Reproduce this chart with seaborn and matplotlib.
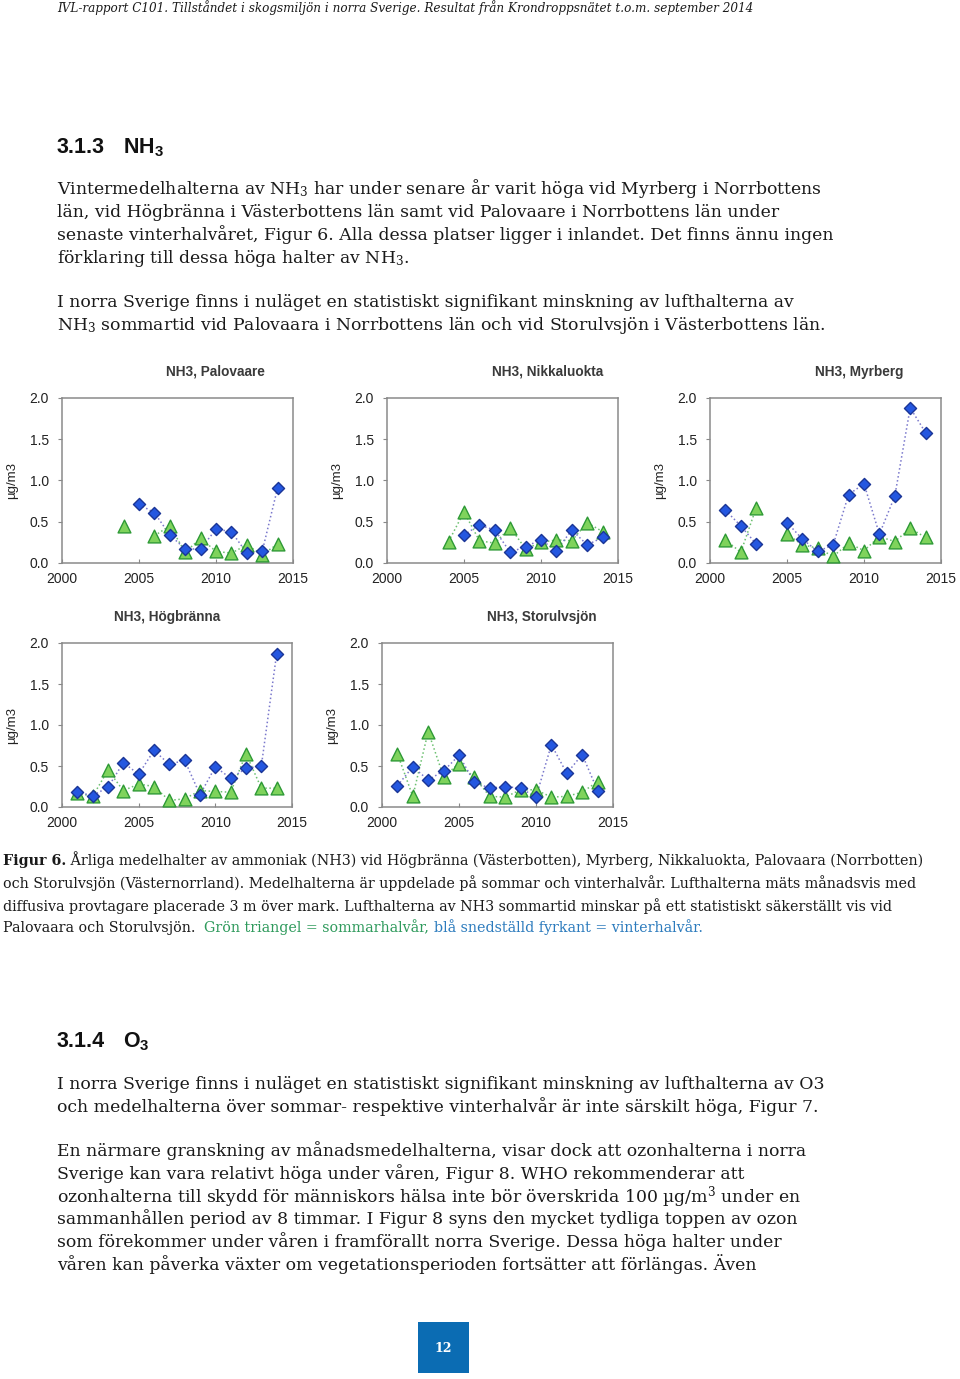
import numpy as np
import pandas as pd
import matplotlib
matplotlib.use("Agg")
import matplotlib.pyplot as plt
from matplotlib.patches import Rectangle
import seaborn as sns

nan = np.nan
years = list(range(2001, 2015))

palovaare_summer = [nan, nan, nan, 0.45, nan, 0.33, 0.45, 0.13, 0.30, 0.14, 0.12, 0.22, 0.10, 0.23]
palovaare_winter = [nan, nan, nan, nan, 0.71, 0.61, 0.34, 0.17, 0.17, 0.41, 0.38, 0.12, 0.14, 0.91]
nikkaluokta_summer = [nan, nan, nan, 0.26, 0.62, 0.27, 0.24, 0.43, 0.17, 0.25, 0.28, 0.27, 0.49, 0.38]
nikkaluokta_winter = [nan, nan, nan, nan, 0.34, 0.46, 0.40, 0.13, 0.20, 0.28, 0.15, 0.40, 0.22, 0.31]
myrberg_summer = [0.28, 0.13, 0.67, nan, 0.35, 0.22, 0.18, 0.08, 0.24, 0.15, 0.32, 0.26, 0.42, 0.31]
myrberg_winter = [0.64, 0.45, 0.23, nan, 0.49, 0.29, 0.14, 0.22, 0.83, 0.96, 0.35, 0.81, 1.88, 1.58]
hogbranna_summer = [0.17, 0.13, 0.45, 0.20, 0.28, 0.25, 0.08, 0.10, 0.20, 0.19, 0.18, 0.65, 0.23, 0.23]
hogbranna_winter = [0.18, 0.14, 0.24, 0.54, 0.40, 0.69, 0.52, 0.57, 0.15, 0.49, 0.35, 0.47, 0.50, 1.87]
storulvsjon_summer = [0.65, 0.13, 0.92, 0.37, 0.53, 0.36, 0.13, 0.12, 0.21, 0.21, 0.12, 0.13, 0.18, 0.31]
storulvsjon_winter = [0.26, 0.49, 0.33, 0.44, 0.63, 0.30, 0.23, 0.25, 0.23, 0.12, 0.76, 0.41, 0.64, 0.20]

x_ticks = [2000, 2005, 2010, 2015]
y_ticks = [0.0, 0.5, 1.0, 1.5, 2.0]
y_label = "µg/m3"

W, H = 960, 1379
sns.set_style("white")
plt.rcParams["font.family"] = ["Liberation Sans", "DejaVu Sans"]
plt.rcParams["mathtext.default"] = "regular"

fig = plt.figure(figsize=(W / 100, H / 100), dpi=100)
fig.patch.set_facecolor("white")
renderer = fig.canvas.get_renderer()

SERIF = ["DejaVu Serif"]
TEXT_C = "#1a1a1a"


def fx(x):
    return x / W


def fy(y):
    return 1 - y / H


def measure(text, size, family, **kw):
    t = fig.text(0, 0, text, fontsize=size, family=family, **kw)
    w = t.get_window_extent(renderer).width
    t.remove()
    return w


def fit(text, family, target, **kw):
    return 12 * target / measure(text, 12, family, **kw)


def runs(x, y, parts, size, family):
    for txt, kw in parts:
        t = fig.text(fx(x), fy(y), txt, fontsize=size, family=family,
                     ha="left", va="baseline", **kw)
        x += t.get_window_extent(renderer).width


# ---------- header ----------
header = ("IVL-rapport C101. Tillståndet i skogsmiljön i norra Sverige. "
          "Resultat från Krondroppsnätet t.o.m. september 2014")
hs = fit(header, SERIF, 696, style="italic")
fig.text(fx(57), fy(12), header, fontsize=hs, family=SERIF, style="italic",
         ha="left", va="baseline", color=TEXT_C)

# ---------- headings ----------
head_kw = dict(fontsize=15.5, family=["Liberation Sans"], weight="bold",
               ha="left", va="baseline", color="#111111")
fig.text(fx(57), fy(153), "3.1.3", **head_kw)
fig.text(fx(123), fy(153), "NH$_3$", **head_kw)
fig.text(fx(57), fy(1047), "3.1.4", **head_kw)
fig.text(fx(123), fy(1047), "O$_3$", **head_kw)

# ---------- body ----------
body_size = fit("Vintermedelhalterna av NH$_3$ har under senare år varit höga vid Myrberg i Norrbottens",
                SERIF, 761)
body = [
    (194, "Vintermedelhalterna av NH$_3$ har under senare år varit höga vid Myrberg i Norrbottens"),
    (217, "län, vid Högbränna i Västerbottens län samt vid Palovaare i Norrbottens län under"),
    (240, "senaste vinterhalvåret, Figur 6. Alla dessa platser ligger i inlandet. Det finns ännu ingen"),
    (263, "förklaring till dessa höga halter av NH$_3$."),
    (307, "I norra Sverige finns i nuläget en statistiskt signifikant minskning av lufthalterna av"),
    (330, "NH$_3$ sommartid vid Palovaara i Norrbottens län och vid Storulvsjön i Västerbottens län."),
    (1089, "I norra Sverige finns i nuläget en statistiskt signifikant minskning av lufthalterna av O3"),
    (1112, "och medelhalterna över sommar- respektive vinterhalvår är inte särskilt höga, Figur 7."),
    (1156, "En närmare granskning av månadsmedelhalterna, visar dock att ozonhalterna i norra"),
    (1179, "Sverige kan vara relativt höga under våren, Figur 8. WHO rekommenderar att"),
    (1202, "ozonhalterna till skydd för människors hälsa inte bör överskrida 100 µg/m$^3$ under en"),
    (1224, "sammanhållen period av 8 timmar. I Figur 8 syns den mycket tydliga toppen av ozon"),
    (1247, "som förekommer under våren i framförallt norra Sverige. Dessa höga halter under"),
    (1270, "våren kan påverka växter om vegetationsperioden fortsätter att förlängas. Även"),
]
for yb, line in body:
    fig.text(fx(57), fy(yb), line, fontsize=body_size, family=SERIF,
             ha="left", va="baseline", color=TEXT_C)

# ---------- caption ----------
cap2 = ("och Storulvsjön (Västernorrland). Medelhalterna är uppdelade på sommar och "
        "vinterhalvår. Lufthalterna mäts månadsvis med")
cap_size = fit(cap2, SERIF, 913)
ck = dict(color=TEXT_C)
runs(3, 865, [("Figur 6.", dict(weight="bold", color=TEXT_C)),
              (" Årliga medelhalter av ammoniak (NH3) vid Högbränna (Västerbotten), Myrberg, "
               "Nikkaluokta, Palovaara (Norrbotten)", ck)], cap_size, SERIF)
runs(3, 888, [(cap2, ck)], cap_size, SERIF)
runs(3, 911, [("diffusiva provtagare placerade 3 m över mark. Lufthalterna av NH3 sommartid "
               "minskar på ett statistiskt säkerställt vis vid", ck)], cap_size, SERIF)
runs(3, 932, [("Palovaara och Storulvsjön.  ", ck),
              ("Grön triangel = sommarhalvår, ", dict(color="#2f9a5c")),
              ("blå snedställd fyrkant = vinterhalvår.", dict(color="#2c7bbd"))],
     cap_size, SERIF)

# ---------- page number ----------
fig.add_artist(Rectangle((fx(418), fy(1373)), 51 / W, 51 / H,
                         transform=fig.transFigure, facecolor="#0b6cb3",
                         edgecolor="none"))
fig.text(fx(443.5), fy(1348), "12", fontsize=9, family=SERIF, weight="bold",
         color="white", ha="center", va="center")

# ---------- charts ----------
SUM_FILL, SUM_EDGE, SUM_LINE = "#7fd35c", "#2e9a36", "#6cc070"
WIN_FILL, WIN_EDGE, WIN_LINE = "#2457e0", "#1a3596", "#7a78cc"

stations = [
    ("NH3, Palovaare", palovaare_summer, palovaare_winter, (62, 293, 398, 563), 215.5),
    ("NH3, Nikkaluokta", nikkaluokta_summer, nikkaluokta_winter, (387, 618, 398, 563), 548),
    ("NH3, Myrberg", myrberg_summer, myrberg_winter, (710, 941, 398, 563), 859),
    ("NH3, Högbränna", hogbranna_summer, hogbranna_winter, (62, 292, 643, 807), 167),
    ("NH3, Storulvsjön", storulvsjon_summer, storulvsjon_winter, (382, 613, 643, 807), 541.5),
]

for title, summer, winter, (l, r, t, b), tcx in stations:
    ax = fig.add_axes([fx(l), fy(b), (r - l) / W, (b - t) / H])
    df = pd.DataFrame({
        "year": years * 2,
        "value": summer + winter,
        "season": ["Sommar"] * len(years) + ["Vinter"] * len(years),
    })
    df["seg"] = df.groupby("season")["value"].transform(lambda s: s.isna().cumsum())
    d = df.dropna()
    sns.lineplot(data=d, x="year", y="value", hue="season", units="seg",
                 estimator=None, palette={"Sommar": SUM_LINE, "Vinter": WIN_LINE},
                 linestyle=":", linewidth=1.1, legend=False, ax=ax)
    sns.scatterplot(data=d[d["season"] == "Sommar"], x="year", y="value", marker="^",
                    s=85, color=SUM_FILL, edgecolor=SUM_EDGE, linewidth=1.0,
                    ax=ax, zorder=3, legend=False, clip_on=False)
    sns.scatterplot(data=d[d["season"] == "Vinter"], x="year", y="value", marker="D",
                    s=38, color=WIN_FILL, edgecolor=WIN_EDGE, linewidth=1.0,
                    ax=ax, zorder=4, legend=False, clip_on=False)
    ax.set_xlim(2000, 2015)
    ax.set_ylim(0, 2)
    ax.set_xticks(x_ticks)
    ax.set_yticks(y_ticks)
    ax.set_yticklabels([f"{v:.1f}" for v in y_ticks])
    ax.tick_params(axis="x", direction="in", length=3, width=0.8, pad=6.5,
                   labelsize=10, colors="#222222", color="#888888")
    ax.tick_params(axis="y", direction="out", length=3, width=0.8, pad=6.5,
                   labelsize=10, colors="#222222", color="#888888", left=True)
    ax.tick_params(axis="x", bottom=True)
    for sp in ax.spines.values():
        sp.set_visible(True)
        sp.set_color("#8a8a8a")
        sp.set_linewidth(1.1)
    ax.set_xlabel("")
    ax.set_ylabel(y_label, fontsize=9.5, color="#222222")
    ax.yaxis.set_label_coords(-44 / (r - l), 0.5)
    ax.text((tcx - l) / (r - l), 1 + 26 / (b - t), title, transform=ax.transAxes,
            ha="center", va="center", fontsize=9.8, weight="bold", color="#3a3a3a")

fig.savefig("out.png", dpi=100)
